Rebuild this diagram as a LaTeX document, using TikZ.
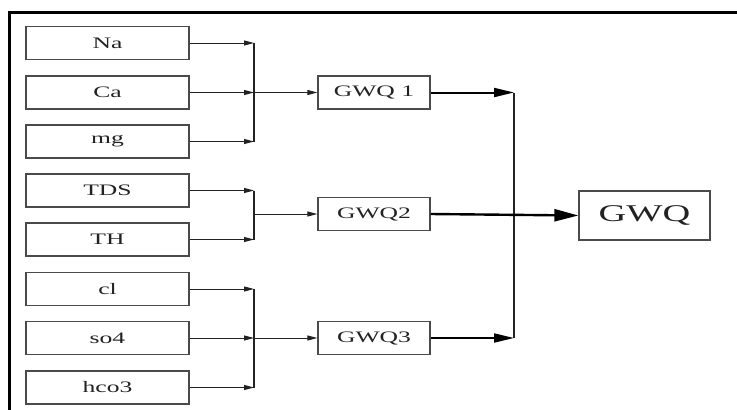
\documentclass[tikz,border=0pt]{standalone}
\usepackage{fontspec}
\setmainfont{Liberation Serif}[FakeStretch=1.6]
\usetikzlibrary{arrows.meta}
\definecolor{boxc}{HTML}{4A4A4A}
\definecolor{inkc}{HTML}{222222}
\tikzset{
  inbox/.style={draw=boxc, line width=1.2pt, minimum width=163pt, minimum height=33pt, inner sep=0pt, font=\fontsize{16}{18}\selectfont, text=inkc},
  midbox/.style={draw=boxc, line width=1.2pt, minimum width=112pt, minimum height=33pt, inner sep=0pt, font=\fontsize{16}{18}\selectfont, text=inkc},
  bigbox/.style={draw=boxc, line width=1.2pt, minimum width=131pt, minimum height=49pt, inner sep=0pt, font=\fontsize{24}{28}\selectfont, text=inkc},
  thinarr/.style={draw=inkc, line width=1pt, -{Triangle[length=10pt,width=5pt]}},
  thickarr/.style={draw=black, line width=2pt, -{Triangle[length=20pt,width=9pt]}},
  bigarr/.style={draw=black, line width=2.4pt, -{Triangle[length=24pt,width=12pt]}},
  busline/.style={draw=inkc, line width=1.5pt},
}
\begin{document}
\begin{tikzpicture}[x=1pt,y=-1pt]
\useasboundingbox (0,0) rectangle (737,410);
\fill[white] (0,0) rectangle (737,410);
% frame (top and left edges)
\draw[line width=3pt, black] (9,410) -- (9,12.5) -- (737,12.5);
% input boxes
\node[inbox] (na) at (107.5,43) {Na};
\node[inbox] (ca) at (107.5,92.5) {Ca};
\node[inbox] (mg) at (107.5,141.5) {mg};
\node[inbox] (tds) at (107.5,190.5) {TDS};
\node[inbox] (th) at (107.5,239.5) {TH};
\node[inbox] (cl) at (107.5,289) {cl};
\node[inbox] (so4) at (107.5,338) {so4};
\node[inbox] (hco3) at (107.5,387.5) {hco3};
% intermediate boxes
\node[midbox] (g1) at (374,92.5) {GWQ 1};
\node[midbox] (g2) at (374,214) {GWQ2};
\node[midbox] (g3) at (374,338) {GWQ3};
% output box
\node[bigbox] (g) at (644.5,215.5) {GWQ};
% bus coordinates
\coordinate (b1t) at (254,43);
\coordinate (b1b) at (254,141.5);
\coordinate (b2t) at (254,190.5);
\coordinate (b2b) at (254,239.5);
\coordinate (b3t) at (254,289);
\coordinate (b3b) at (254,387.5);
\coordinate (b4t) at (514,92.5);
\coordinate (b4b) at (514,338);
% buses
\draw[busline] (b1t) -- (b1b);
\draw[busline] (b2t) -- (b2b);
\draw[busline] (b3t) -- (b3b);
\draw[busline] (b4t) -- (b4b);
% input arrows
\draw[thinarr] (na.east) -- (na.east -| b1t);
\draw[thinarr] (ca.east) -- (ca.east -| b1t);
\draw[thinarr] (mg.east) -- (mg.east -| b1t);
\draw[thinarr] (tds.east) -- (tds.east -| b2t);
\draw[thinarr] (th.east) -- (th.east -| b2t);
\draw[thinarr] (cl.east) -- (cl.east -| b3t);
\draw[thinarr] (so4.east) -- (so4.east -| b3t);
\draw[thinarr] (hco3.east) -- (hco3.east -| b3t);
% bus to intermediate boxes
\draw[thinarr] (g1.west -| b1t) -- (g1.west);
\draw[thinarr] (g2.west -| b2t) -- (g2.west);
\draw[thinarr] (g3.west -| b3t) -- (g3.west);
% intermediate to second bus
\draw[thickarr] (g1.east) -- (g1.east -| b4t);
\draw[thickarr] (g3.east) -- (g3.east -| b4t);
\draw[bigarr] (g2.east) -- (g.west);
\end{tikzpicture}
\end{document}
